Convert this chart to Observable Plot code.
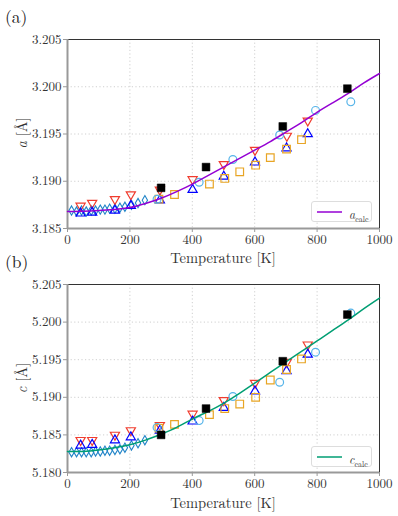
<!DOCTYPE html>
<html><head><meta charset="utf-8">
<script src="https://cdn.jsdelivr.net/npm/d3@7"></script>
<script src="https://cdn.jsdelivr.net/npm/@observablehq/plot@0.6"></script>
<style>
body{margin:0;background:#fff;}
#wrap{position:relative;width:398px;height:516px;font-family:"Latin Modern Roman","Liberation Serif",serif;color:#333;}
#wrap svg{position:absolute;left:0;}
#wrap svg text{font-family:"Latin Modern Roman","Liberation Serif",serif !important;}
.lbl{position:absolute;white-space:nowrap;line-height:1;font-family:"Latin Modern Roman","Liberation Serif",serif;}
.leg{position:absolute;width:61px;height:21px;border:1px solid #ddd;border-radius:3px;background:rgba(255,255,255,0.85);box-sizing:border-box;}
</style></head>
<body><div id="wrap"></div>
<script>
// ---- data ----
const tempDiamond = [13, 29, 45, 60, 76, 90, 105, 120, 135, 152, 168, 184, 205, 226, 248];
const aDiamond = [3.1869, 3.1868, 3.1869, 3.1868, 3.1869, 3.1869, 3.1870, 3.1870, 3.1871, 3.1871, 3.1872, 3.1873, 3.1875, 3.1877, 3.1880];
const cDiamond = [5.1827, 5.1827, 5.1827, 5.1827, 5.1827, 5.1828, 5.1828, 5.1829, 5.1829, 5.1830, 5.1831, 5.1833, 5.1836, 5.1839, 5.1843];

const tempRed = [42, 79, 152, 203, 296, 401, 501, 601, 703, 770];
const aRed = [3.1874, 3.1877, 3.1881, 3.1886, 3.1891, 3.1902, 3.1918, 3.1933, 3.1948, 3.1964];
const cRed = [5.1843, 5.1843, 5.1850, 5.1856, 5.1863, 5.1878, 5.1896, 5.1919, 5.1947, 5.1970];

const tempBlue = [42, 79, 152, 203, 296, 401, 501, 601, 702, 770];
const aBlue = [3.1866, 3.1867, 3.1869, 3.1874, 3.1880, 3.1891, 3.1905, 3.1920, 3.1935, 3.1950];
const cBlue = [5.1836, 5.1837, 5.1843, 5.1847, 5.1856, 5.1868, 5.1886, 5.1908, 5.1935, 5.1957];

const tempOrange = [293, 343, 455, 504, 552, 603, 650, 702, 750];
const aOrange = [3.1881, 3.1886, 3.1897, 3.1903, 3.1910, 3.1917, 3.1925, 3.1934, 3.1944];
const cOrange = [5.1859, 5.1864, 5.1877, 5.1885, 5.1891, 5.1900, 5.1923, 5.1937, 5.1951];

const tempCircle = [287, 422, 530, 680, 795, 908];
const aCircle = [3.1881, 3.1899, 3.1923, 3.1949, 3.1975, 3.1984];
const cCircle = [5.1860, 5.1869, 5.1901, 5.1920, 5.1960, 5.2012];

const tempBlack = [300, 444, 690, 897];
const aBlack = [3.1893, 3.1915, 3.1958, 3.1998];
const cBlack = [5.1850, 5.1885, 5.1948, 5.2010];

const tempCalc = [0, 50, 100, 150, 200, 250, 300, 350, 400, 450, 500, 550, 600, 650, 700, 750, 800, 850, 900, 950, 1000];
const aCalc = [3.1868, 3.18682, 3.18690, 3.18702, 3.18722, 3.18765, 3.1882, 3.1889, 3.1897, 3.1906, 3.1915, 3.1924, 3.1933, 3.1942, 3.1952, 3.1962, 3.1973, 3.1983, 3.1993, 3.2004, 3.2014];
const cCalc = [5.1828, 5.1828, 5.1830, 5.1833, 5.1837, 5.1843, 5.1851, 5.1860, 5.1871, 5.1881, 5.1892, 5.1905, 5.1919, 5.1933, 5.1947, 5.1961, 5.1975, 5.1989, 5.2003, 5.2018, 5.2032];

const xTicks = [0, 200, 400, 600, 800, 1000];
const aTicks = [3.185, 3.190, 3.195, 3.200, 3.205];
const cTicks = [5.180, 5.185, 5.190, 5.195, 5.200, 5.205];

const zip = (t, v) => t.map((x, i) => ({t: x, v: v[i]}));
const FONT = "'Latin Modern Roman', 'Liberation Serif', serif";

function panel({yDomain, yTicks, height, marginTop, marginBottom, diam, red, blue, orange, circ, black, calc, lineColor}) {
  return Plot.plot({
    width: 398, height, marginLeft: 67, marginRight: 19, marginTop, marginBottom,
    x: {domain: [0, 1000]},
    y: {domain: yDomain},
    style: {fontFamily: FONT, fontSize: "13px", color: "#333", background: "transparent"},
    marks: [
      Plot.gridX(xTicks, {stroke: "#cfcfcf", strokeOpacity: 1, strokeDasharray: "1.2,2.4"}),
      Plot.gridY(yTicks, {stroke: "#cfcfcf", strokeOpacity: 1, strokeDasharray: "1.2,2.4"}),
      Plot.frame({stroke: "#333", strokeWidth: 1}),
      Plot.ruleX([0], {stroke: "#999", strokeWidth: 2}),
      Plot.ruleY([yDomain[0]], {stroke: "#999", strokeWidth: 2}),
      Plot.axisX(xTicks, {tickSize: 4, tickPadding: 2, stroke: "#999", label: null, tickFormat: d3.format("d"), fontSize: 13, fill: "#333", fontFamily: FONT}),
      Plot.axisY(yTicks, {tickSize: 4, tickPadding: 2, stroke: "#999", label: null, tickFormat: d3.format(".3f"), fontSize: 13, fill: "#333", fontFamily: FONT}),
      Plot.dot(diam, {x: "t", y: "v", symbol: "diamond", r: 2.8, stroke: "#2084c8", strokeWidth: 1.1, fill: "none"}),
      Plot.dot(red, {x: "t", y: "v", symbol: "triangle", rotate: 180, r: 3.4, stroke: "#f03c2e", strokeWidth: 1.2, fill: "none"}),
      Plot.dot(blue, {x: "t", y: "v", symbol: "triangle", r: 3.4, stroke: "#0000ff", strokeWidth: 1.2, fill: "none"}),
      Plot.dot(orange, {x: "t", y: "v", symbol: "square", r: 4.3, stroke: "#e8a525", strokeWidth: 1.2, fill: "none"}),
      Plot.dot(circ, {x: "t", y: "v", symbol: "circle", r: 3.9, stroke: "#56b4e9", strokeWidth: 1.2, fill: "none"}),
      Plot.line(calc, {x: "t", y: "v", stroke: lineColor, strokeWidth: 1.5, curve: "natural"}),
      Plot.dot(black, {x: "t", y: "v", symbol: "square", r: 4.4, fill: "#000", stroke: "#000", strokeWidth: 0.5})
    ]
  });
}

const wrap = document.getElementById("wrap");

const svgA = panel({
  yDomain: [3.185, 3.205], yTicks: aTicks, height: 262, marginTop: 39, marginBottom: 34,
  diam: zip(tempDiamond, aDiamond), red: zip(tempRed, aRed), blue: zip(tempBlue, aBlue),
  orange: zip(tempOrange, aOrange), circ: zip(tempCircle, aCircle), black: zip(tempBlack, aBlack),
  calc: zip(tempCalc, aCalc), lineColor: "#9400d3"
});
svgA.style.top = "0px";
wrap.appendChild(svgA);

const svgB = panel({
  yDomain: [5.180, 5.205], yTicks: cTicks, height: 254, marginTop: 22, marginBottom: 44,
  diam: zip(tempDiamond, cDiamond), red: zip(tempRed, cRed), blue: zip(tempBlue, cBlue),
  orange: zip(tempOrange, cOrange), circ: zip(tempCircle, cCircle), black: zip(tempBlack, cBlack),
  calc: zip(tempCalc, cCalc), lineColor: "#009e73"
});
svgB.style.top = "262px";
wrap.appendChild(svgB);

function label(html, left, top, size, extra) {
  const d = document.createElement("div");
  d.className = "lbl";
  d.innerHTML = html;
  d.style.left = left + "px";
  d.style.top = top + "px";
  d.style.fontSize = size + "px";
  if (extra) Object.assign(d.style, extra);
  wrap.appendChild(d);
  return d;
}
label("(a)", 5, 7, 17.5, {color: "#222"});
label("(b)", 5, 252, 17.5, {color: "#222"});
label("Temperature [K]", 223, 250, 14.5, {transform: "translateX(-50%)"});
label("Temperature [K]", 223, 495, 14.5, {transform: "translateX(-50%)"});
label("<i>a</i> [Å]", 21, 133, 14.5, {transform: "translate(-50%,-50%) rotate(-90deg)"});
label("<i>c</i> [Å]", 21, 378, 14.5, {transform: "translate(-50%,-50%) rotate(-90deg)"});

function legend(top, color, sym) {
  const d = document.createElement("div");
  d.className = "leg";
  d.style.left = "311px";
  d.style.top = top + "px";
  d.innerHTML = `<svg width="30" height="19" style="position:absolute;left:3px;top:0"><line x1="2" x2="27" y1="10" y2="10" stroke="${color}" stroke-width="1.5"/></svg>` +
    `<span style="position:absolute;left:37px;top:3px;font-size:12px;color:#333;font-family:${FONT};"><i>${sym}</i><sub style="font-size:8px;">calc</sub></span>`;
  wrap.appendChild(d);
}
legend(201, "#9400d3", "a");
legend(446, "#009e73", "c");
</script></body></html>
